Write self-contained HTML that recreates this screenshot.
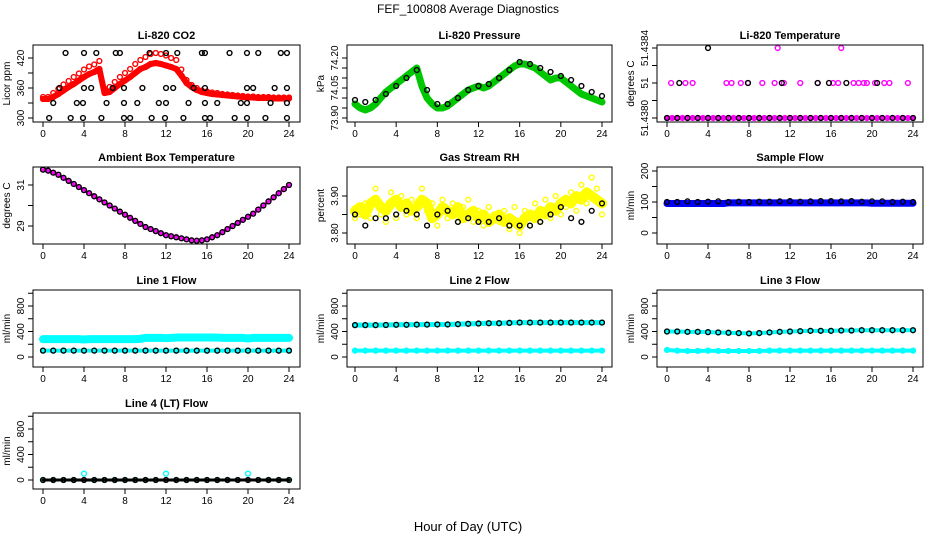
<!DOCTYPE html>
<html><head><meta charset="utf-8"><style>
body{margin:0;background:#fff;}
svg{display:block;font-family:"Liberation Sans",sans-serif;}
</style></head><body>
<svg id="c" width="936" height="540" xmlns="http://www.w3.org/2000/svg">
<text x="468" y="13" text-anchor="middle" font-size="12">FEF_100808  Average Diagnostics</text>
<text x="468" y="531" text-anchor="middle" font-size="13">Hour of Day (UTC)</text>
</svg>
<script>
const H=[0,0.5,1,1.5,2,2.5,3,3.5,4,4.5,5,5.5,6,6.5,7,7.5,8,8.5,9,9.5,10,10.5,11,11.5,12,12.5,13,13.5,14,14.5,15,15.5,16,16.5,17,17.5,18,18.5,19,19.5,20,20.5,21,21.5,22,22.5,23,23.5,24];
const HH=[0,1,2,3,4,5,6,7,8,9,10,11,12,13,14,15,16,17,18,19,20,21,22,23,24];
const xTicks=[0,4,8,12,16,20,24];
const co2Red=[338,338,342,348,355,362,368,375,382,388,392,398,350,352,360,368,375,382,390,398,402,408,410,408,405,402,398,385,370,362,356,352,350,348,347,346,345,344,343,342,341,341,340,340,340,339,339,339,339];
const co2Spread=[4,4,8,10,12,12,14,14,15,15,15,16,8,10,12,14,15,16,18,18,20,20,20,20,20,18,18,12,6,4,4,3,3,3,3,2,2,2,2,2,2,2,2,2,2,2,2,2,2];
const co2BlackT=[2.2,4,5.2,7.1,7.5,10.4,12,13.1,15.5,15.8,18.2,19.9,21,23.2,23.8,1.6,4,4.7,6.8,7.9,9.7,12,12.7,14.7,15.8,19.9,20.5,22.6,23.8,1.0,3.3,3.9,6.2,7.9,9.2,11.3,12,14.2,15.8,17,19.3,19.9,22.2,23.8,0.6,2.7,3.9,5.7,7.9,8.5,10.6,11.9,13.7,15.8,16.3,18.7,19.9,21.7,23.8];
const co2BlackV=[430,430,430,430,430,430,430,430,430,430,430,430,430,430,430,360,360,360,360,360,360,360,360,360,360,360,360,360,360,330,330,330,330,330,330,330,330,330,330,330,330,330,330,330,300,300,300,300,300,300,300,300,300,300,300,300,300,300,300];
const pressGreen=[73.97,73.95,73.94,73.95,73.97,74.00,74.03,74.05,74.07,74.09,74.11,74.13,74.15,74.06,74.00,73.97,73.95,73.95,73.96,73.98,74.00,74.02,74.04,74.05,74.06,74.05,74.06,74.08,74.10,74.12,74.14,74.16,74.17,74.17,74.16,74.15,74.13,74.11,74.09,74.10,74.10,74.08,74.06,74.04,74.02,74.01,74.00,73.99,73.98];
const pressBlack=[73.99,73.98,73.99,74.02,74.06,74.10,74.14,74.04,73.97,73.97,74.00,74.04,74.06,74.07,74.10,74.14,74.18,74.17,74.15,74.13,74.11,74.09,74.06,74.03,74.01];
const tempMagT=[0.4,1.8,2.5,5.8,6.3,7.2,7.9,9.3,10.5,11.4,13,14.7,16.2,16.7,18.2,18.7,19.2,19.5,20.3,21.2,21.7,23.5,10.8,17];
const tempMagV=[1,1,1,1,1,1,1,1,1,1,1,1,1,1,1,1,1,1,1,1,1,1,2,2];
const tempBlackT=[1.2,7.9,11.2,14.7,15.8,17.5,20.5,4];
const tempBlackV=[1,1,1,1,1,1,1,2];
const tempBase=[0,0,0,0,0,0,0,0,0,0,0,0,0,0,0,0,0,0,0,0,0,0,0,0,0,0,0,0,0,0,0,0,0,0,0,0,0,0,0,0,0,0,0,0,0,0,0,0,0];
const ambient=[31.75,31.7,31.6,31.5,31.35,31.2,31.05,30.9,30.75,30.6,30.45,30.3,30.15,30.0,29.85,29.7,29.55,29.4,29.25,29.1,28.95,28.85,28.75,28.65,28.55,28.5,28.45,28.4,28.35,28.3,28.28,28.3,28.35,28.45,28.55,28.7,28.85,29.0,29.15,29.3,29.45,29.6,29.8,30.0,30.2,30.4,30.6,30.8,31.0];
const rhYellow=[3.86,3.87,3.85,3.88,3.89,3.87,3.86,3.88,3.89,3.87,3.88,3.86,3.87,3.89,3.88,3.84,3.85,3.87,3.86,3.85,3.87,3.84,3.85,3.86,3.84,3.85,3.83,3.84,3.85,3.83,3.84,3.83,3.82,3.84,3.85,3.84,3.86,3.85,3.87,3.86,3.88,3.89,3.88,3.90,3.89,3.91,3.90,3.89,3.88];
const rhYellow2=[3.84,3.85,3.88,3.84,3.92,3.85,3.83,3.91,3.84,3.90,3.85,3.89,3.84,3.92,3.86,3.88,3.82,3.89,3.84,3.88,3.83,3.87,3.89,3.83,3.86,3.82,3.87,3.85,3.83,3.86,3.81,3.87,3.80,3.86,3.82,3.88,3.83,3.89,3.84,3.90,3.85,3.87,3.91,3.86,3.93,3.88,3.95,3.92,3.85];
const rhBlack=[3.85,3.82,3.84,3.84,3.85,3.86,3.85,3.82,3.85,3.86,3.83,3.84,3.83,3.83,3.84,3.82,3.82,3.82,3.83,3.85,3.87,3.84,3.83,3.86,3.88];
const sampleBlue=[95,95,95,95,95,95,95,95,95,95,95,95,97,97,97,97,97,97,97,97,97,97,97,97,97,97,97,97,97,97,97,97,97,97,97,97,97,97,97,97,96,96,96,96,96,96,96,96,96];
const sampleBlack=[100,100,102,100,101,102,100,101,100,101,101,102,103,101,102,103,103,102,103,101,102,102,100,101,100];
const line1Cyan=[280,280,280,280,280,280,280,280,275,280,280,280,280,280,280,280,280,280,280,285,300,300,300,300,295,300,305,305,305,305,305,305,305,305,305,300,300,300,300,300,290,300,300,300,300,300,300,300,300];
const line1Black=[100,100,100,100,100,100,100,100,100,100,100,100,100,100,100,100,100,100,100,100,100,100,100,100,100];
const line2Black=[500,500,500,502,505,505,508,508,510,510,515,520,525,530,530,535,540,540,540,540,540,540,540,540,540];
const line2Cyan=[100,100,100,100,100,100,100,100,100,100,100,100,100,100,100,100,100,100,100,100,100,100,100,100,100];
const line3Black=[400,400,395,395,390,385,380,375,370,375,385,395,400,405,410,410,410,415,415,420,420,420,420,420,420];
const line3Cyan=[110,100,95,95,100,95,95,95,95,95,100,100,100,100,100,100,100,100,100,100,100,100,100,100,100];
const line4Black=[0,0,0,0,0,0,0,0,0,0,0,0,0,0,0,0,0,0,0,0,0,0,0,0,0];
const line4Cyan=[0,0,0,0,100,0,0,0,0,0,0,0,100,0,0,0,0,0,0,0,100,0,0,0,0];

const svg=document.getElementById('c');
const NS='http://www.w3.org/2000/svg';
function mk(tag,attrs,parent){const e=document.createElementNS(NS,tag);for(const k in attrs)e.setAttribute(k,attrs[k]);(parent||svg).appendChild(e);return e;}

function panel(p){
  const g=mk('g',{});
  
  
  const xs=h=>p.x0+(p.x24-p.x0)*h/24;
  const ys=v=>p.ya+(p.yb-p.ya)*(v-p.va)/(p.vb-p.va);
  const t=mk('text',{x:(p.L+p.R)/2,y:p.T-6,'text-anchor':'middle','font-size':11,'font-weight':'bold'},g);
  t.textContent=p.title;
  
  
  const yl=mk('text',{x:0,y:0,'text-anchor':'middle','font-size':10,transform:`translate(${p.L-23},${(p.T+p.B)/2}) rotate(-90)`},g);
  yl.textContent=p.ylab;
  
  
  p.series.forEach(s=>{
    const sg=mk('g',{},g);
    
    
    if(s.band){
      const pts=s.t.map((h,i)=>xs(h)+','+ys(s.v[i])).join(' ');
      mk('polyline',{points:pts,fill:'none',stroke:s.col,'stroke-width':s.band,'stroke-linejoin':'round','stroke-linecap':'round'},sg);
    }
    s.t.forEach((h,i)=>{
      const c=mk('circle',{cx:xs(h),cy:ys(s.v[i]),r:2.4,fill:'none',stroke:s.col,'stroke-width':1.4},sg);
      
      
    });
  });
  mk('rect',{x:p.L,y:p.T,width:p.R-p.L,height:p.B-p.T,fill:'none',stroke:'#000','stroke-width':1},g);
  mk('line',{x1:xs(0),x2:xs(24),y1:p.B,y2:p.B,stroke:'#000'},g);
  xTicks.forEach(h=>{
    mk('line',{x1:xs(h),x2:xs(h),y1:p.B,y2:p.B+5,stroke:'#000'},g);
    const tl=mk('text',{x:xs(h),y:p.B+15,'text-anchor':'middle','font-size':10},g);
    tl.textContent=h;
    
    
  });
  p.yticks.forEach(v=>{
    mk('line',{x1:p.L-5,x2:p.L,y1:ys(v),y2:ys(v),stroke:'#000'},g);
  });
  p.ylabels.forEach((v,i)=>{
    const lt=mk('text',{x:0,y:0,'text-anchor':'middle','font-size':10,transform:`translate(${p.L-9},${ys(v)}) rotate(-90)`},g);
    lt.textContent=p.ylabelText[i];
    
    
  });
}
const C1={L:33,R:300,x0:43,x24:289},C2={L:347,R:612,x0:355,x24:602},C3={L:657,R:923,x0:667,x24:913};
const R1={T:45,B:122},R2={T:167,B:244},R3={T:290,B:367},R4={T:413,B:489};
const flowTicks=[0,200,400,600,800,1000];
function P(c,r,o){return Object.assign({},c,r,o);}

panel(P(C1,R1,{name:'panel-co2',title:'Li-820 CO2',ylab:'Licor ppm',va:300,ya:118,vb:420,yb:58,
 yticks:[300,330,360,390,420],ylabels:[300,360,420],ylabelText:['300','360','420'],
 series:[{name:'co2-red',t:H,v:co2Red,col:'#ff0000',band:6},
 {name:'co2-red-upper',t:H,v:co2Red.map((v,i)=>v+co2Spread[i]),col:'#ff0000'},
 {name:'co2-black',t:co2BlackT,v:co2BlackV,col:'#000'}]}));
panel(P(C2,R1,{name:'panel-pressure',title:'Li-820 Pressure',ylab:'kPa',va:73.90,ya:118,vb:74.20,yb:58,
 yticks:[73.90,73.95,74.0,74.05,74.10,74.15,74.20],ylabels:[73.90,74.05,74.20],ylabelText:['73.90','74.05','74.20'],
 series:[{name:'pressure-green',t:H,v:pressGreen,col:'#00c800',band:7},
 {name:'pressure-black',t:HH,v:pressBlack,col:'#000'}]}));
panel(P(C3,R1,{name:'panel-li820-temp',title:'Li-820 Temperature',ylab:'degrees C',va:0,ya:118,vb:2,yb:48,
 yticks:[0,0.5,1,1.5,2],ylabels:[0,1,2],ylabelText:['51.4380','51','51.4384'],
 series:[{name:'temp-magenta-base',t:H,v:tempBase,col:'#ff00ff',band:4},
 {name:'temp-magenta',t:tempMagT,v:tempMagV,col:'#ff00ff'},
 {name:'temp-black-base',t:HH,v:tempBase.slice(0,25),col:'#000'},
 {name:'temp-black',t:tempBlackT,v:tempBlackV,col:'#000'}]}));
panel(P(C1,R2,{name:'panel-ambient-temp',title:'Ambient Box Temperature',ylab:'degrees C',va:29,ya:226,vb:31,yb:185,
 yticks:[29,30,31],ylabels:[29,31],ylabelText:['29','31'],
 series:[{name:'ambient-magenta',t:H,v:ambient,col:'#ff00ff',band:3},
 {name:'ambient-black',t:H,v:ambient,col:'#000'}]}));
panel(P(C2,R2,{name:'panel-rh',title:'Gas Stream RH',ylab:'percent',va:3.80,ya:233,vb:3.90,yb:196,
 yticks:[3.80,3.85,3.90],ylabels:[3.80,3.90],ylabelText:['3.80','3.90'],
 series:[{name:'rh-yellow',t:H,v:rhYellow,col:'#ffff00',band:10},
 {name:'rh-yellow-2',t:H,v:rhYellow2,col:'#ffff00'},
 {name:'rh-black',t:HH,v:rhBlack,col:'#000'}]}));
panel(P(C3,R2,{name:'panel-sample-flow',title:'Sample Flow',ylab:'ml/min',va:0,ya:233,vb:200,yb:171,
 yticks:[0,50,100,150,200],ylabels:[0,100,200],ylabelText:['0','100','200'],
 series:[{name:'sample-blue',t:H,v:sampleBlue,col:'#0000ff',band:7},
 {name:'sample-black',t:HH,v:sampleBlack,col:'#000'}]}));
panel(P(C1,R3,{name:'panel-line1-flow',title:'Line 1 Flow',ylab:'ml/min',va:0,ya:357,vb:800,yb:306,
 yticks:flowTicks,ylabels:[0,400,800],ylabelText:['0','400','800'],
 series:[{name:'line1-cyan',t:H,v:line1Cyan,col:'#00ffff',band:8},
 {name:'line1-cyan-low',t:HH,v:line1Black,col:'#00ffff',band:4},
 {name:'line1-black',t:HH,v:line1Black,col:'#000'}]}));
panel(P(C2,R3,{name:'panel-line2-flow',title:'Line 2 Flow',ylab:'ml/min',va:0,ya:357,vb:800,yb:306,
 yticks:flowTicks,ylabels:[0,400,800],ylabelText:['0','400','800'],
 series:[{name:'line2-cyan-high',t:HH,v:line2Black,col:'#00ffff',band:5},
 {name:'line2-cyan',t:HH,v:line2Cyan,col:'#00ffff',band:4},
 {name:'line2-black',t:HH,v:line2Black,col:'#000'}]}));
panel(P(C3,R3,{name:'panel-line3-flow',title:'Line 3 Flow',ylab:'ml/min',va:0,ya:357,vb:800,yb:306,
 yticks:flowTicks,ylabels:[0,400,800],ylabelText:['0','400','800'],
 series:[{name:'line3-cyan-high',t:HH,v:line3Black,col:'#00ffff',band:4},
 {name:'line3-cyan',t:HH,v:line3Cyan,col:'#00ffff',band:4},
 {name:'line3-black',t:HH,v:line3Black,col:'#000'}]}));
panel(P(C1,R4,{name:'panel-line4-flow',title:'Line 4 (LT) Flow',ylab:'ml/min',va:0,ya:480,vb:800,yb:429,
 yticks:flowTicks,ylabels:[0,400,800],ylabelText:['0','400','800'],
 series:[{name:'line4-cyan',t:HH,v:line4Cyan,col:'#00ffff'},
 {name:'line4-black',t:HH,v:line4Black,col:'#000',band:3}]}));
</script>
</body></html>
